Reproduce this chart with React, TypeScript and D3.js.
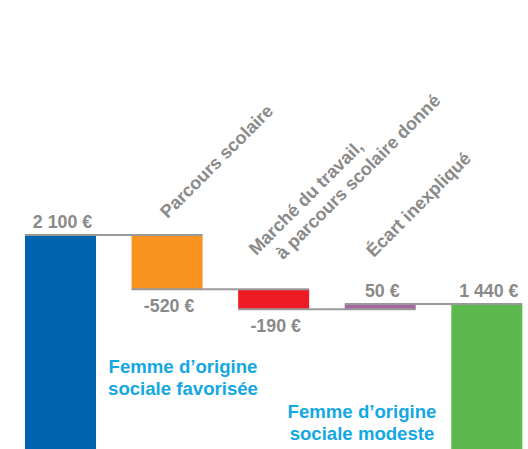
import * as d3 from 'd3';

// Waterfall: salaire femme d'origine favorisée -> modeste
const categories = ['favorisee', 'parcours', 'marche', 'ecart', 'modeste'];
const values = [2100, -520, -190, 50, 1440];
const isTotal = [true, false, false, false, true];
const valueLabels = ['2 100 €', '-520 €', '-190 €', '50 €', '1 440 €'];
const barColors = ['#0063AE', '#F7931E', '#ED1C24', '#A5679F', '#5DB84D'];

// rotated category labels (bars 2 to 4), lines of each label
const stepLabels: (string[] | null)[] = [
  null,
  ['Parcours scolaire'],
  ['Marché du travail,', 'à parcours scolaire donné'],
  ['Écart inexpliqué'],
  null,
];

const endLabels = [
  { lines: ["Femme d’origine", 'sociale favorisée'], x: 183, y: 373 },
  { lines: ["Femme d’origine", 'sociale modeste'], x: 362, y: 418 },
];

const W = 528;
const H = 449;
const GRAY = '#8A8A8A';
const FONT = '"Liberation Sans", Arial, sans-serif';

// label anchor tweaks, hand placed like in the original slide
const stepLabelDx = [0, 0.5, -17.5, -6.5, 0];
const stepLabelY = [0, 219, 256, 258, 0];

export default function App() {
  // running totals
  let run = 0;
  const bars = values.map((v, i) => {
    let y0: number, y1: number;
    if (isTotal[i]) {
      y0 = 0;
      y1 = v;
      run = v;
    } else {
      y0 = run;
      y1 = run + v;
      run = y1;
    }
    return { key: categories[i], y0, y1, value: v, i };
  });

  const x = d3.scaleBand<string>()
    .domain(categories)
    .range([25, 522.3])
    .paddingInner(0.334)
    .paddingOuter(0);

  const y = d3.scaleLinear()
    .domain([0, d3.max(bars, d => Math.max(d.y0, d.y1))!])
    .range([454.5, 235]);

  const bw = x.bandwidth();

  return (
    <svg
      width={W}
      height={H}
      style={{ position: 'absolute', left: 0, top: 0, display: 'block', background: '#fff' }}
      fontFamily={FONT}
      fontWeight="bold"
    >
      {/* bars */}
      <g>
        {bars.map(d => (
          <rect
            key={d.key}
            x={x(d.key)!}
            y={y(Math.max(d.y0, d.y1))}
            width={bw}
            height={Math.abs(y(d.y0) - y(d.y1))}
            fill={barColors[d.i]}
          />
        ))}
      </g>

      {/* connectors */}
      <g stroke="#9A9A9A" strokeWidth={2}>
        {bars.slice(0, -1).map((d, i) => {
          const next = bars[i + 1];
          const ly = y(d.y1);
          return (
            <line
              key={d.key}
              x1={x(d.key)!}
              x2={x(next.key)! + bw}
              y1={ly}
              y2={ly}
            />
          );
        })}
      </g>

      {/* value labels */}
      <g fill={GRAY} fontSize={17.8} textAnchor="middle">
        {bars.map(d => {
          const cx = x(d.key)! + bw / 2 + 2;
          const neg = !isTotal[d.i] && d.value < 0;
          const ty = neg ? y(Math.min(d.y0, d.y1)) + 23 : y(Math.max(d.y0, d.y1)) - 7;
          return (
            <text key={d.key} x={cx} y={ty}>{valueLabels[d.i]}</text>
          );
        })}
      </g>

      {/* rotated step labels */}
      <g fill={GRAY} fontSize={18}>
        {stepLabels.map((lines, i) => {
          if (!lines) return null;
          const ax = x(categories[i])! + bw / 2 + stepLabelDx[i];
          const ay = stepLabelY[i];
          return (
            <g key={i} transform={`translate(${ax},${ay}) rotate(-45)`}>
              {lines.map((ln, j) => (
                <text key={j} x={j * 16} y={j * 22}>{ln}</text>
              ))}
            </g>
          );
        })}
      </g>

      {/* end annotations */}
      <g fill="#14A8E3" fontSize={18.6} textAnchor="middle">
        {endLabels.map((a, i) => (
          <text key={i} x={a.x} y={a.y}>
            {a.lines.map((ln, j) => (
              <tspan key={j} x={a.x} dy={j === 0 ? 0 : 21.5}>{ln}</tspan>
            ))}
          </text>
        ))}
      </g>
    </svg>
  );
}
